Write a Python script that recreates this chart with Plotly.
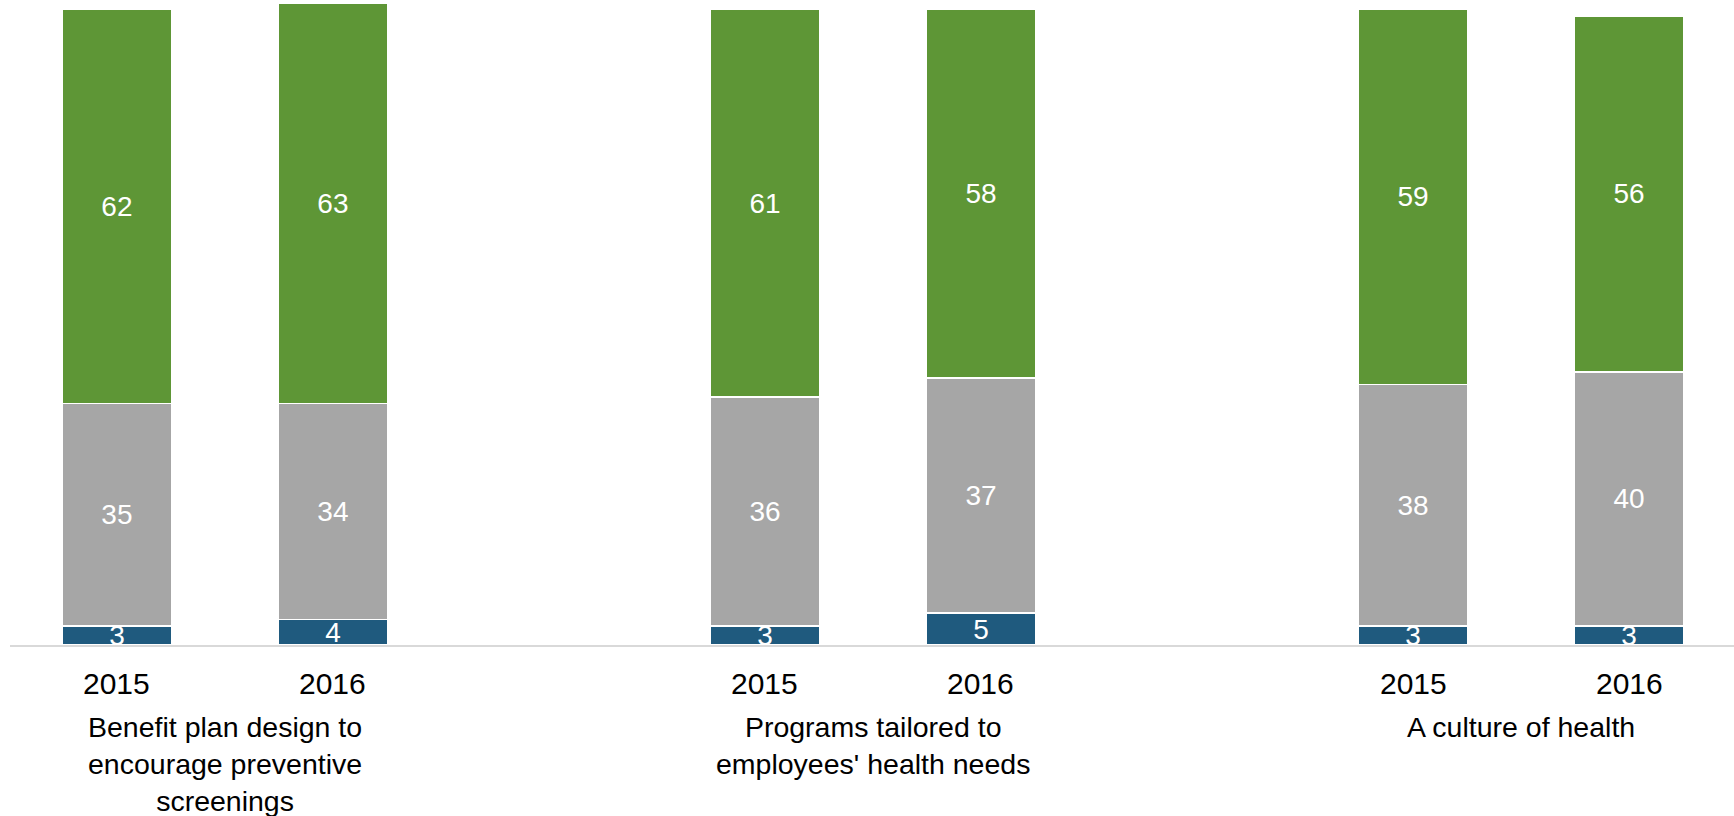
import plotly.graph_objects as go

# Survey results: share of respondents per answer, two survey years per topic
categories = [
    "Benefit plan design to<br>encourage preventive<br>screenings",
    "Programs tailored to<br>employees' health needs",
    "A culture of health",
]
years = ["2015", "2016"]

# one value per bar, ordered topic by topic, 2015 then 2016
blue_vals = [3, 4, 3, 5, 3, 3]
gray_vals = [35, 34, 36, 37, 38, 40]
green_vals = [62, 63, 61, 58, 59, 56]

# bar slots on a numeric axis: two bars per topic, one empty slot between topics
positions = []
for g in range(len(categories)):
    for k in range(len(years)):
        positions.append(g * 3 + k)

BLUE = "#1f5a7e"
GRAY = "#a6a6a6"
GREEN = "#5e9636"
FONT = "Liberation Sans, Arial, sans-serif"

fig = go.Figure()
for vals, color in [(blue_vals, BLUE), (gray_vals, GRAY), (green_vals, GREEN)]:
    fig.add_trace(
        go.Bar(
            x=positions,
            y=vals,
            width=0.505,
            marker=dict(color=color, line=dict(color="white", width=1.5)),
            text=[str(v) for v in vals],
            textposition="inside",
            insidetextanchor="middle",
            textangle=0,
            constraintext="none",
            cliponaxis=False,
            textfont=dict(color="white", size=28, family=FONT),
            hoverinfo="skip",
        )
    )

# year labels under each bar
for i, p in enumerate(positions):
    fig.add_annotation(
        x=p, y=0, xref="x", yref="paper",
        text=years[i % len(years)],
        showarrow=False, yanchor="middle", yshift=-38,
        font=dict(size=30, color="black", family=FONT),
    )

# topic labels centred under each pair of bars
for g, name in enumerate(categories):
    fig.add_annotation(
        x=g * 3 + 0.5, y=0, xref="x", yref="paper",
        text=name,
        showarrow=False, yanchor="top", yshift=-64, align="center",
        font=dict(size=28.5, color="black", family=FONT),
    )

fig.update_layout(
    barmode="stack",
    width=1734,
    height=816,
    margin=dict(l=10, r=0, t=0, b=171),
    plot_bgcolor="white",
    paper_bgcolor="white",
    showlegend=False,
    xaxis=dict(
        range=[-0.495, 7.486],
        showticklabels=False,
        showgrid=False,
        zeroline=False,
        showline=True,
        linecolor="#d9d9d9",
        linewidth=1.5,
        ticks="",
        fixedrange=True,
    ),
    yaxis=dict(
        range=[0, 101.5],
        visible=False,
        showgrid=False,
        zeroline=False,
        fixedrange=True,
    ),
)

fig.write_html("out.html", config={"displayModeBar": False})
